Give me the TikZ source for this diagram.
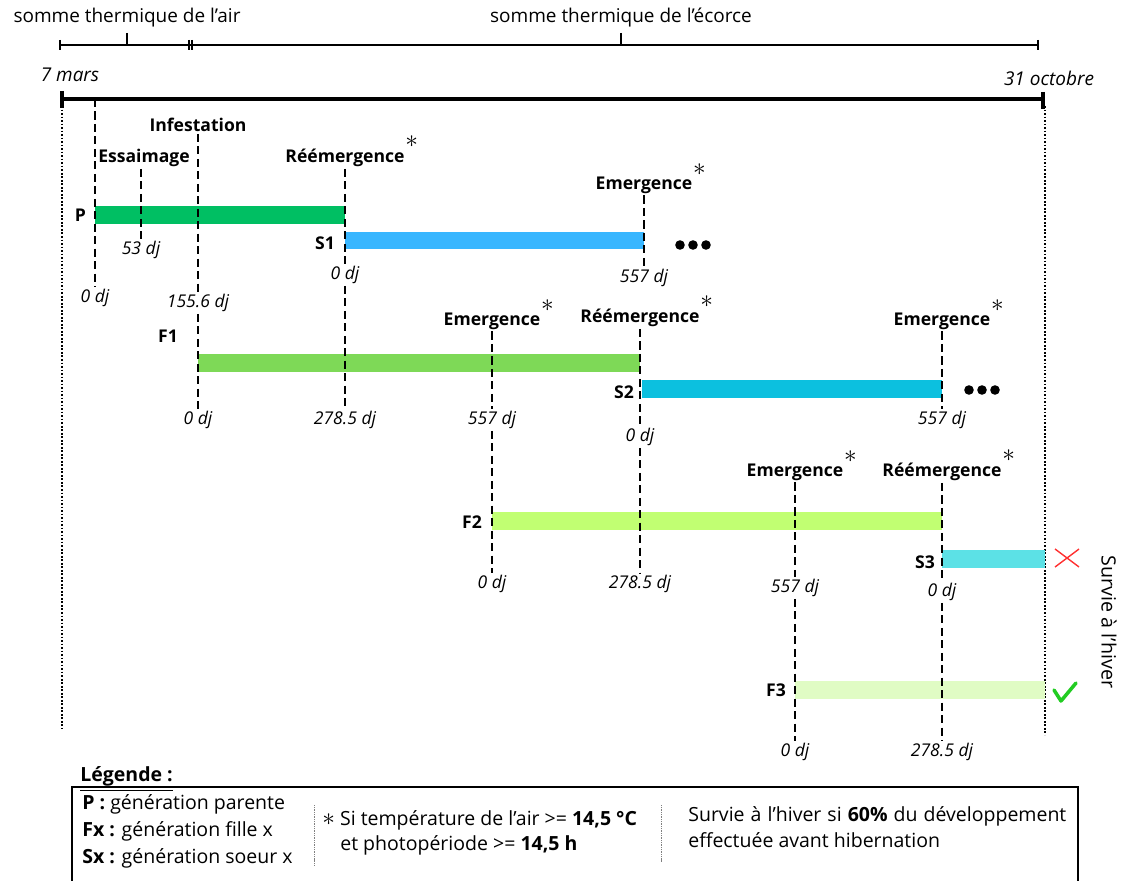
\documentclass[tikz,border=0pt]{standalone}
\usepackage{fontspec}
\setmainfont{Open Sans}
\usetikzlibrary{positioning}
\definecolor{colP}{HTML}{00BF63}
\definecolor{colSa}{HTML}{38B6FF}
\definecolor{colFa}{HTML}{7ED957}
\definecolor{colSb}{HTML}{0CC0DF}
\definecolor{colFb}{HTML}{C1FF72}
\definecolor{colSc}{HTML}{5CE1E6}
\definecolor{colFc}{HTML}{E0FCC4}
\definecolor{colNo}{HTML}{FF3131}
\definecolor{colYes}{HTML}{22CC22}

\begin{document}
\begin{tikzpicture}[x=0.02cm,y=-0.02cm,
    lbl/.style={font=\bfseries, inner sep=1pt},
    gen/.style={font=\bfseries, inner sep=1pt, anchor=east},
    dj/.style={font=\itshape, inner sep=1pt},
    big/.style={font=\fontsize{10.8}{13}\selectfont},
    legtxt/.style={font=\fontsize{11.1}{13}\selectfont, anchor=west, inner sep=0pt},
    ast/.style={font=\Large, inner sep=0pt},
    evline/.style={line width=1.45pt, dash pattern=on 4.6pt off 2.5pt},
    dotline/.style={line width=1.3pt, dash pattern=on 1pt off 1pt},
    sepline/.style={gray, line width=0.3pt, dash pattern=on 0.6pt off 0.4pt}]
  \useasboundingbox (0,0) rectangle (1123,881);

  % echelles de sommes thermiques
  \node [big] (air) at (127,18) {somme thermique de l’air};
  \node [big] (ecorce) at (621,18) {somme thermique de l’écorce};
  \draw [line width=1.2pt] (60,45) -- (1038,45);
  \draw [line width=1.2pt] (60,40) -- (60,50);
  \draw [line width=1.2pt] (127,33) -- (127,45);
  \draw [line width=1.2pt] (189,40) -- (189,50);
  \draw [line width=1.2pt] (192,40) -- (192,50);
  \draw [line width=1.2pt] (621,33) -- (621,45);
  \draw [line width=1.2pt] (1038,40) -- (1038,50);

  % calendrier
  \node [big, font=\fontsize{10.8}{13}\selectfont\itshape] (debut) at (70,75) {7 mars};
  \node [big, font=\fontsize{10.8}{13}\selectfont\itshape] (fin) at (1049,78) {31 octobre};
  \coordinate (t0) at (62,99);
  \coordinate (t1) at (1043,99);
  \draw [line width=2.4pt] (t0) -- (t1);
  \draw [line width=2.4pt] (62,91) -- (62,108);
  \draw [line width=2.4pt] (1043,92) -- (1043,109);
  \draw [dotline] (62,106) -- (62,728);
  \draw [dotline] (1045,106) -- (1045,735);

  % barres de developpement
  \fill [colP] (95,206) rectangle (345,224);
  \fill [colSa] (345,232) rectangle (644,249);
  \fill [colFa] (198,354) rectangle (640,372);
  \fill [colSb] (642,380) rectangle (942,398);
  \fill [colFb] (492,512) rectangle (942,530);
  \fill [colSc] (942,550) rectangle (1045,568);
  \fill [colFc] (795,681) rectangle (1045,699);
  \node [gen] (P) at (88,215) {P};
  \node [gen] (S1) at (337,243) {S1};
  \node [gen] (F1) at (180,336) {F1};
  \node [gen] (S2) at (636,392) {S2};
  \node [gen] (F2) at (484,522) {F2};
  \node [gen] (S3) at (937,562) {S3};
  \node [gen] (F3) at (788,690) {F3};

  % evenements
  \node [lbl] (infest) at (198,125) {Infestation};
  \node [lbl] (essaim) at (144,158) {Essaimage};
  \node [lbl] (reemP) at (345,158) {Réémergence};
  \node [lbl] (emS1) at (644,185) {Emergence};
  \node [lbl] (emF1) at (492,321) {Emergence};
  \node [lbl] (reemF1) at (640,318) {Réémergence};
  \node [lbl] (emS2) at (942,321) {Emergence};
  \node [lbl] (emF2) at (795,472) {Emergence};
  \node [lbl] (reemF2) at (942,472) {Réémergence};
  \foreach \ev in {reemP,emS1,emF1,reemF1,emS2,emF2,reemF2}
    \node [ast] (ast-\ev) at ([shift={(5,-5)}]\ev.north east) {$\ast$};

  % degres-jours
  \node [dj] (djP0) at (95,298) {0 dj};
  \node [dj] (djP53) at (141,250) {53 dj};
  \node [dj] (djP155) at (198,303) {155.6 dj};
  \node [dj] (djS1) at (345,275) {0 dj};
  \node [dj] (djS1e) at (644,278) {557 dj};
  \node [dj] (djF1a) at (198,420) {0 dj};
  \node [dj] (djF1b) at (345,420) {278.5 dj};
  \node [dj] (djF1c) at (492,420) {557 dj};
  \node [dj] (djS2a) at (640,437) {0 dj};
  \node [dj] (djS2b) at (942,420) {557 dj};
  \node [dj] (djF2a) at (492,584) {0 dj};
  \node [dj] (djF2b) at (640,584) {278.5 dj};
  \node [dj] (djF2c) at (795,588) {557 dj};
  \node [dj] (djS3) at (942,592) {0 dj};
  \node [dj] (djF3a) at (795,752) {0 dj};
  \node [dj] (djF3b) at (942,752) {278.5 dj};

  % reperes pointilles
  \draw [evline] (t0 -| djP0.north) -- (djP0.north);
  \draw [evline] (djP53.north |- essaim.south) -- (djP53.north);
  \draw [evline] (infest.south) -- (djP155.north);
  \draw [evline] (djP155.south) -- (djF1a.north);
  \draw [evline] (reemP.south) -- (djS1.north);
  \draw [evline] (djS1.south) -- (djF1b.north);
  \draw [evline] (emS1.south) -- (djS1e.north);
  \draw [evline] (emF1.south) -- (djF1c.north);
  \draw [evline] (djF1c.south) -- (djF2a.north);
  \draw [evline] (reemF1.south) -- (djS2a.north);
  \draw [evline] (djS2a.south) -- (djF2b.north);
  \draw [evline] (emS2.south) -- (djS2b.north);
  \draw [evline] (emF2.south) -- (djF2c.north);
  \draw [evline] (djF2c.south) -- (djF3a.north);
  \draw [evline] (reemF2.south) -- (djS3.north);
  \draw [evline] (djS3.south) -- (djF3b.north);

  % suite
  \foreach \i in {0,1,2} {
    \fill (680+\i*13,245) circle (4.8);
    \fill (969+\i*13,390) circle (4.8);
  }

  % survie a l'hiver
  \draw [colNo, line width=0.8pt] (1055,549) -- (1079,567);
  \draw [colNo, line width=0.8pt] (1055,567) -- (1079,549);
  \draw [colYes, line width=2pt, line cap=round, line join=round]
    (1054,690) -- (1061,701) -- (1076,683);
  \node [rotate=-90, font=\fontsize{11.2}{13}\selectfont] (hiver) at (1109,622) {Survie à l’hiver};

  % legende
  \node [legtxt, font=\fontsize{11.1}{13}\selectfont\bfseries] (leg) at (80,776) {Légende :};
  \draw [line width=0.9pt] ([yshift=-2.5]leg.south west) -- ([yshift=-2.5]leg.south east);
  \draw [line width=1.1pt] (72,787) rectangle (1078,900);
  \node [legtxt] (legP) at (82,804) {\textbf{P :} génération parente};
  \node [legtxt] (legF) at (82,831) {\textbf{Fx :} génération fille x};
  \node [legtxt] (legS) at (82,858) {\textbf{Sx :} génération soeur x};
  \draw [sepline] (314,805) -- (314,865);
  \node [legtxt] (legA) at (322,820) {{\Large$\ast$} Si température de l’air >= \textbf{14,5 °C}};
  \node [legtxt] (legB) at (340,845) {et photopériode >= \textbf{14,5 h}};
  \draw [sepline] (661,805) -- (661,862);
  \node [legtxt, font=\fontsize{11.1}{15}\selectfont, anchor=north west, text width=378*0.02cm, align=justify] (legH) at (688,806)
    {Survie à l’hiver si \textbf{60\%} du développement\linebreak effectuée avant hibernation};
\end{tikzpicture}
\end{document}
